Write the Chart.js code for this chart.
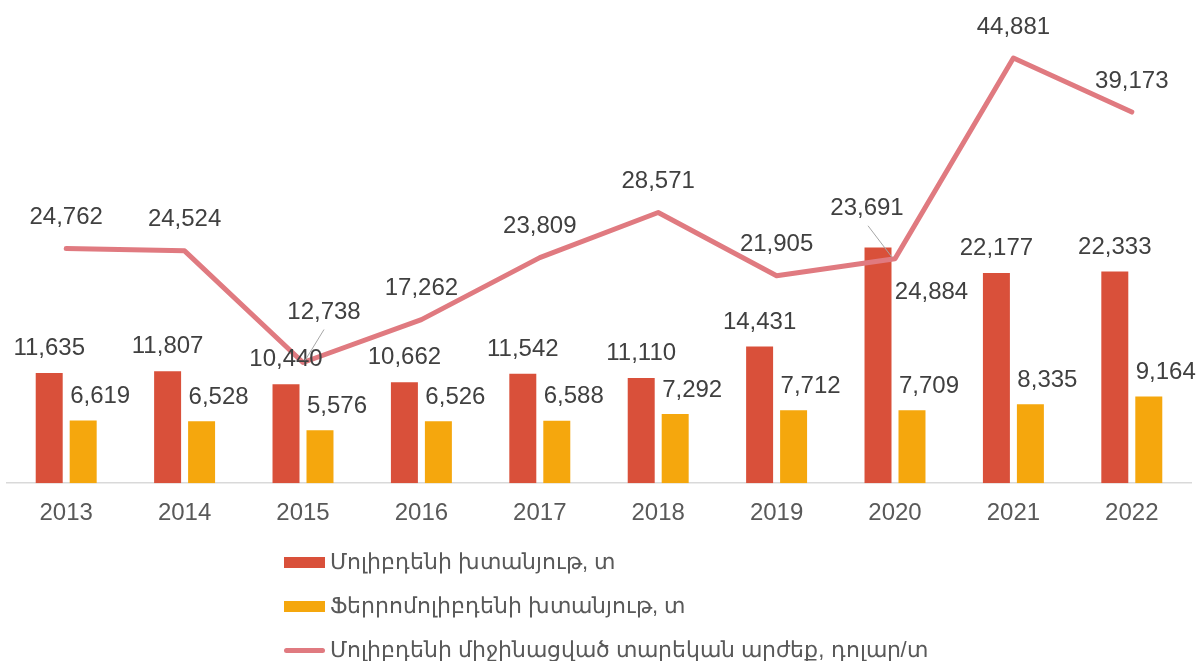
<!DOCTYPE html>
<html>
<head>
<meta charset="utf-8">
<script src="https://cdn.jsdelivr.net/npm/chart.js@4"></script>
<style>
    html, body { margin: 0; padding: 0; background: #fff; }
    .wrap { position: relative; width: 1200px; height: 661px; }
    .legend { position: absolute; left: 284px; top: 540px; font-family: "Liberation Sans", Arial, sans-serif; font-size: 22px; color: #595959; }
    .legend-item { display: flex; align-items: center; height: 44px; }
    .legend-swatch { width: 41px; margin-right: 5px; }
</style>
</head>
<body>
<div class="wrap">
    <canvas id="molyChart"></canvas>
    <div class="legend" id="legend"></div>
</div>
<script>
/* ================= DATA ================= */
const years = ['2013', '2014', '2015', '2016', '2017', '2018', '2019', '2020', '2021', '2022'];
const molyConcentrate = [11635, 11807, 10440, 10662, 11542, 11110, 14431, 24884, 22177, 22333];
const ferroMoly = [6619, 6528, 5576, 6526, 6588, 7292, 7712, 7709, 8335, 9164];
const molyPrice = [24762, 24524, 12738, 17262, 23809, 28571, 21905, 23691, 44881, 39173];

const seriesNames = [
    'Մոլիբդենի խտանյութ, տ',
    'Ֆերրոմոլիբդենի խտանյութ, տ',
    'Մոլիբդենի միջինացված տարեկան արժեք, դոլար/տ'
];

/* ================= LABEL NUDGES ================= */
// default offsets from the mark, per dataset, plus a few moved labels
const labelOffsets = [
    { dx: 0, dy: -24.5 },
    { dx: 17, dy: -24 },
    { dx: 0, dy: -31 }
];
const labelSpecial = {
    '0-7': { dx: 53.5, dy: 45 },
    '2-2': { dx: 21, dy: -50, leader: [21, -33, 2, -2] },
    '2-7': { dx: -28, dy: -50, leader: [-27, -33, -3, -1.5] }
};

const FONT = '"Liberation Sans", Arial, sans-serif';
const fmt = v => v.toLocaleString('en-US');

const dataLabels = {
    id: 'dataLabels',
    afterDatasetsDraw(chart) {
        const ctx = chart.ctx;
        ctx.save();
        ctx.font = '24px ' + FONT;
        ctx.fillStyle = '#404040';
        ctx.textAlign = 'center';
        ctx.textBaseline = 'middle';
        chart.data.datasets.forEach((ds, di) => {
            const meta = chart.getDatasetMeta(di);
            meta.data.forEach((el, i) => {
                const sp = labelSpecial[di + '-' + i];
                const off = sp || labelOffsets[di];
                if (sp && sp.leader) {
                    const l = sp.leader;
                    ctx.strokeStyle = '#A6A6A6';
                    ctx.lineWidth = 1;
                    ctx.beginPath();
                    ctx.moveTo(el.x + l[0], el.y + l[1]);
                    ctx.lineTo(el.x + l[2], el.y + l[3]);
                    ctx.stroke();
                }
                ctx.fillText(fmt(ds.data[i]), el.x + off.dx, el.y + off.dy);
            });
        });
        ctx.restore();
    }
};

/* ================= CHART ================= */
const chart = new Chart(document.getElementById('molyChart'), {
    type: 'bar',
    data: {
        labels: years,
        datasets: [{
            label: seriesNames[0],
            data: molyConcentrate,
            backgroundColor: '#D9503A',
            categoryPercentage: 0.574,
            barPercentage: 0.794,
            order: 1
        }, {
            label: seriesNames[1],
            data: ferroMoly,
            backgroundColor: '#F5A70D',
            categoryPercentage: 0.574,
            barPercentage: 0.794,
            order: 1
        }, {
            type: 'line',
            label: seriesNames[2],
            data: molyPrice,
            borderColor: '#E07A80',
            borderWidth: 5,
            borderCapStyle: 'round',
            borderJoinStyle: 'round',
            pointRadius: 0,
            tension: 0,
            order: 0
        }]
    },
    options: {
        responsive: true,
        maintainAspectRatio: false,
        animation: false,
        layout: { padding: { top: 9.5, left: 7, right: 9, bottom: 118 } },
        plugins: {
            legend: { display: false },
            tooltip: { enabled: false }
        },
        scales: {
            x: {
                grid: { display: false, drawTicks: false },
                border: { color: '#D9D9D9', width: 1.5 },
                ticks: { color: '#595959', padding: 15.5, font: { family: FONT, size: 24 } }
            },
            y: {
                display: false,
                min: 0,
                max: 50000
            }
        }
    },
    plugins: [dataLabels]
});

/* ================= LEGEND ================= */
const legendEl = document.getElementById('legend');
chart.data.datasets.forEach(ds => {
    const item = document.createElement('div');
    item.className = 'legend-item';
    const sw = document.createElement('span');
    sw.className = 'legend-swatch';
    if (ds.type === 'line') {
        sw.style.height = '5px';
        sw.style.borderRadius = '3px';
        sw.style.background = ds.borderColor;
    } else {
        sw.style.height = '11px';
        sw.style.background = ds.backgroundColor;
    }
    const txt = document.createElement('span');
    txt.textContent = ds.label;
    item.appendChild(sw);
    item.appendChild(txt);
    legendEl.appendChild(item);
});
</script>
</body>
</html>
